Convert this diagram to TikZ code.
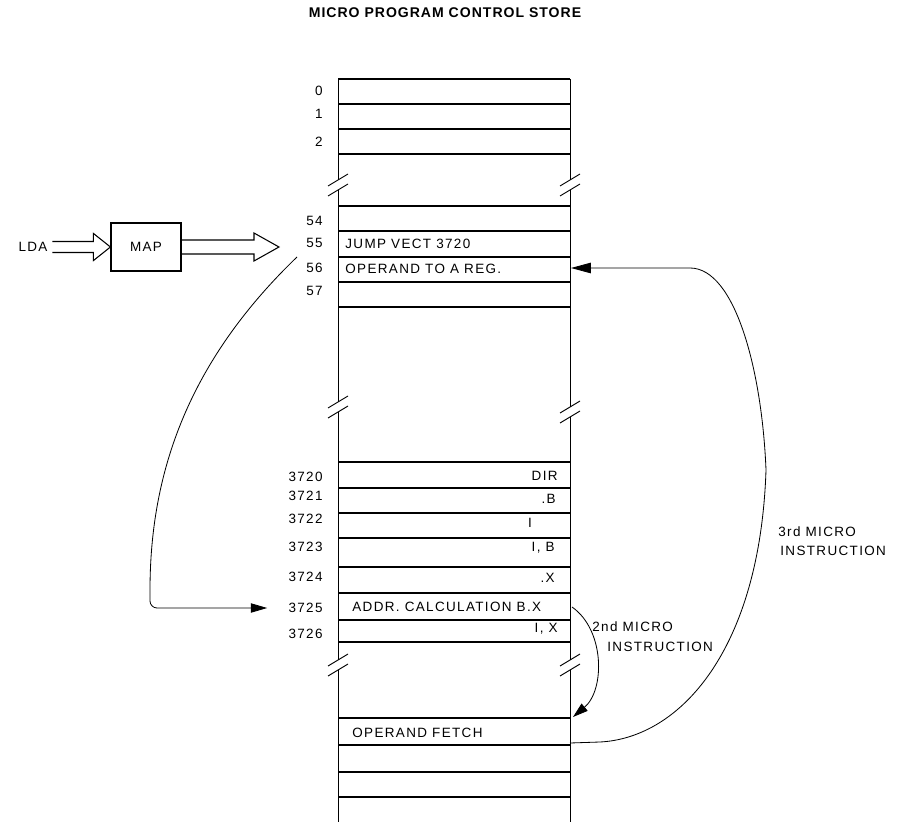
\documentclass[tikz,border=0pt]{standalone}
\usepackage{fontspec}
\newfontfamily\lblf[LetterSpace=10]{Liberation Sans}
\newfontfamily\ttlf[LetterSpace=7]{Liberation Sans}
\usepackage{tikz}
\usetikzlibrary{arrows.meta,calc}
\tikzset{
  rowln/.style={line width=1.6pt},
  colln/.style={line width=0.8pt},
  brk/.style={line width=0.8pt},
  lbl/.style={anchor=east,inner sep=1pt,font=\lblf\fontsize{11.5}{13}\selectfont},
  txt/.style={inner sep=1pt,font=\lblf\fontsize{11.5}{13}\selectfont},
  box/.style={draw,line width=0.9pt,minimum width=2.1cm,minimum height=1.44cm,inner sep=0pt},
  hol/.style={line width=0.9pt,line join=miter},
  flow/.style={line width=0.7pt,-{Triangle[length=14pt,width=8pt]}},
  flowb/.style={line width=0.7pt,-{Triangle[length=17pt,width=9pt]}},
  flowc/.style={line width=0.7pt,-{Triangle[length=13pt,width=8pt]}}
}
\newcommand{\brk}[2]{\draw[brk] (#1-10,#2+1) -- (#1+10,#2-11); \draw[brk] (#1-10,#2+11) -- (#1+10,#2-1);}
\newcommand{\hollowarrow}[5]{\draw[hol] ($(#1)+(0,-#3)$) -- ($(#2)+(-#5,-#3)$) -- ($(#2)+(-#5,-#4)$) -- (#2)
  -- ($(#2)+(-#5,#4)$) -- ($(#2)+(-#5,#3)$) -- ($(#1)+(0,#3)$);}

\begin{document}
\begin{tikzpicture}[x=0.03cm,y=-0.03cm]
\useasboundingbox (0,0) rectangle (897,822);
\node[font=\ttlf\bfseries\fontsize{12}{14}\selectfont] (title) at (445,13) {MICRO PROGRAM CONTROL STORE};

\foreach \y in {79,104,129,154,206,231,257,282,307,462,488,513,538,567,593,620,642,718,745,772,797}
  \draw[rowln] (338,\y) -- (570,\y);
\draw[colln] (338,79) -- (338,180) (338,190) -- (338,402) (338,412) -- (338,660) (338,670) -- (338,822);
\draw[colln] (570,79) -- (570,180) (570,190) -- (570,407) (570,417) -- (570,660) (570,670) -- (570,822);
\brk{338}{185} \brk{570}{185} \brk{338}{407} \brk{570}{412} \brk{338}{665} \brk{570}{665}

\foreach \n/\y in {0/91,1/114,2/142,54/221,55/243,56/268,57/291,3720/477,3721/496,3722/519,3723/547,3724/577,3725/608,3726/634}
  \node[lbl] (l\n) at (324,\y) {\n};

\node[txt,anchor=west] (t55) at (344,244) {JUMP VECT 3720};
\node[txt,anchor=west] (t56) at (344,269) {OPERAND TO A REG.};
\node[txt,anchor=east] (t3720) at (559,476) {DIR};
\node[txt,anchor=east] (t3721) at (557,499) {.B};
\node[txt] (t3722) at (530,523) {I};
\node[txt,anchor=east] (t3723) at (556,548) {I, B};
\node[txt,anchor=east] (t3724) at (556,578) {.X};
\node[txt,anchor=west] (t3725) at (351,607) {ADDR. CALCULATION B.X};
\node[txt,anchor=east] (t3726) at (559,629) {I, X};
\node[txt,anchor=west] (tfetch) at (351,733) {OPERAND FETCH};

\node[txt,inner sep=4pt] (lda) at (33,247) {LDA};
\node[txt,box] (map) at (146,247) {MAP};
\coordinate (vin) at (279,247);
\hollowarrow{lda.east}{map.west}{5.5}{13.5}{17}
\hollowarrow{map.east}{vin}{7}{14}{25}

\coordinate (jmp) at (297,257);
\draw[flow,shorten >=0.6cm] (jmp) .. controls (190,360) and (150,470) .. (150,590) [rounded corners=6pt] -- (150,608) -- (l3725.west);

\coordinate (fetchE) at (570,743);
\coordinate (regE) at (571,268);
\draw[flowb] (fetchE) -- (600,742) .. controls (680,738) and (760,650) .. (766,470) .. controls (762,370) and (735,268) .. (690,268) -- (regE);

\coordinate (calcE) at (572,607);
\coordinate (fetchN) at (573,717);
\draw[flowc] (calcE) .. controls (605,630) and (605,690) .. (fetchN);

\node[txt,anchor=west] (m2a) at (591,627) {2nd MICRO};
\node[txt,anchor=west] (m2b) at (606,647) {INSTRUCTION};
\node[txt,anchor=west] (m3a) at (777,532) {3rd MICRO};
\node[txt,anchor=west] (m3b) at (779,551) {INSTRUCTION};
\end{tikzpicture}
\end{document}
